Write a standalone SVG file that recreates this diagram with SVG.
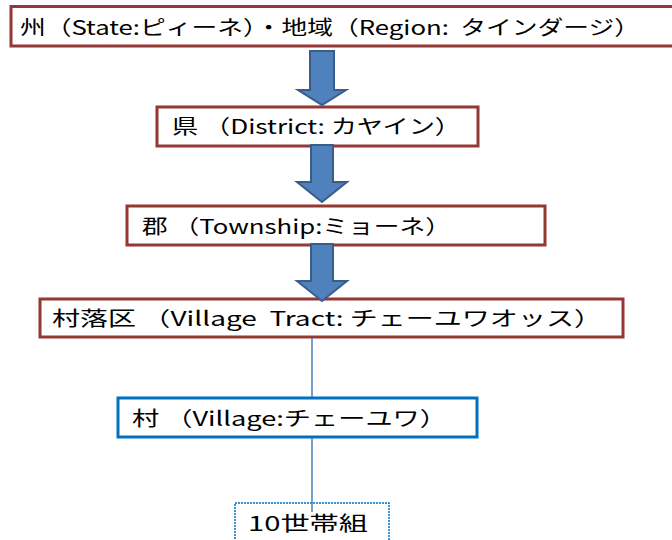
<svg xmlns="http://www.w3.org/2000/svg" width="672" height="540" viewBox="0 0 672 540">
<style>
.red{fill:#fff;stroke:#953735;stroke-width:3}
.blue{fill:#fff;stroke:#0070C0;stroke-width:3}
.dash{fill:#fff;stroke:#0070C0;stroke-width:1.5;stroke-dasharray:2 1}
.t{font-family:"Noto Sans CJK JP","Noto Sans",sans-serif;font-size:20px;fill:#000}
.arr{fill:#4F81BD;stroke:#385D8A;stroke-width:2;stroke-linejoin:miter}
.ln{stroke:#4A7EBB;stroke-width:1.5;fill:none}
</style>
<rect width="672" height="540" fill="#fff"/>
<g id="state">
<rect class="red" x="11" y="6.5" width="690" height="39.5"/>
<text class="t" x="20" y="35" textLength="620" lengthAdjust="spacingAndGlyphs">州（State:ピィーネ）・地域（Region:&#160;&#160;タインダージ）</text>
</g>
<g id="district">
<rect class="red" x="157" y="107" width="321" height="39"/>
<text class="t" x="172" y="134" textLength="289" lengthAdjust="spacingAndGlyphs">県 （District: カヤイン）</text>
</g>
<g id="township">
<rect class="red" x="127" y="206" width="418" height="39"/>
<text class="t" x="142" y="234" textLength="309" lengthAdjust="spacingAndGlyphs">郡 （Township:ミョーネ）</text>
</g>
<g id="villagetract">
<rect class="red" x="40" y="299" width="583" height="38"/>
<text class="t" x="52" y="326" textLength="550" lengthAdjust="spacingAndGlyphs">村落区 （Village&#160;&#160;Tract: チェーユワオッス）</text>
</g>
<g id="village">
<rect class="blue" x="118" y="398" width="359" height="39"/>
<text class="t" x="132" y="426" textLength="315" lengthAdjust="spacingAndGlyphs">村 （Village:チェーユワ）</text>
</g>
<g id="household">
<rect class="dash" x="235" y="503" width="154" height="50"/>
<text class="t" x="248" y="531" textLength="120" lengthAdjust="spacingAndGlyphs">10世帯組</text>
</g>
<g id="connectors">
<path class="arr" d="M310,51 H334 V90 H346 L322,105 L298,90 H310 Z"/>
<path class="arr" d="M311,145 H333 V182 H347 L322,202 L297,182 H311 Z"/>
<path class="arr" d="M311,244 H333 V281 H347 L322,301 L297,281 H311 Z"/>
<line class="ln" x1="312" y1="338" x2="312" y2="397"/>
<line class="ln" x1="312" y1="438" x2="312" y2="512"/>
</g>
</svg>
